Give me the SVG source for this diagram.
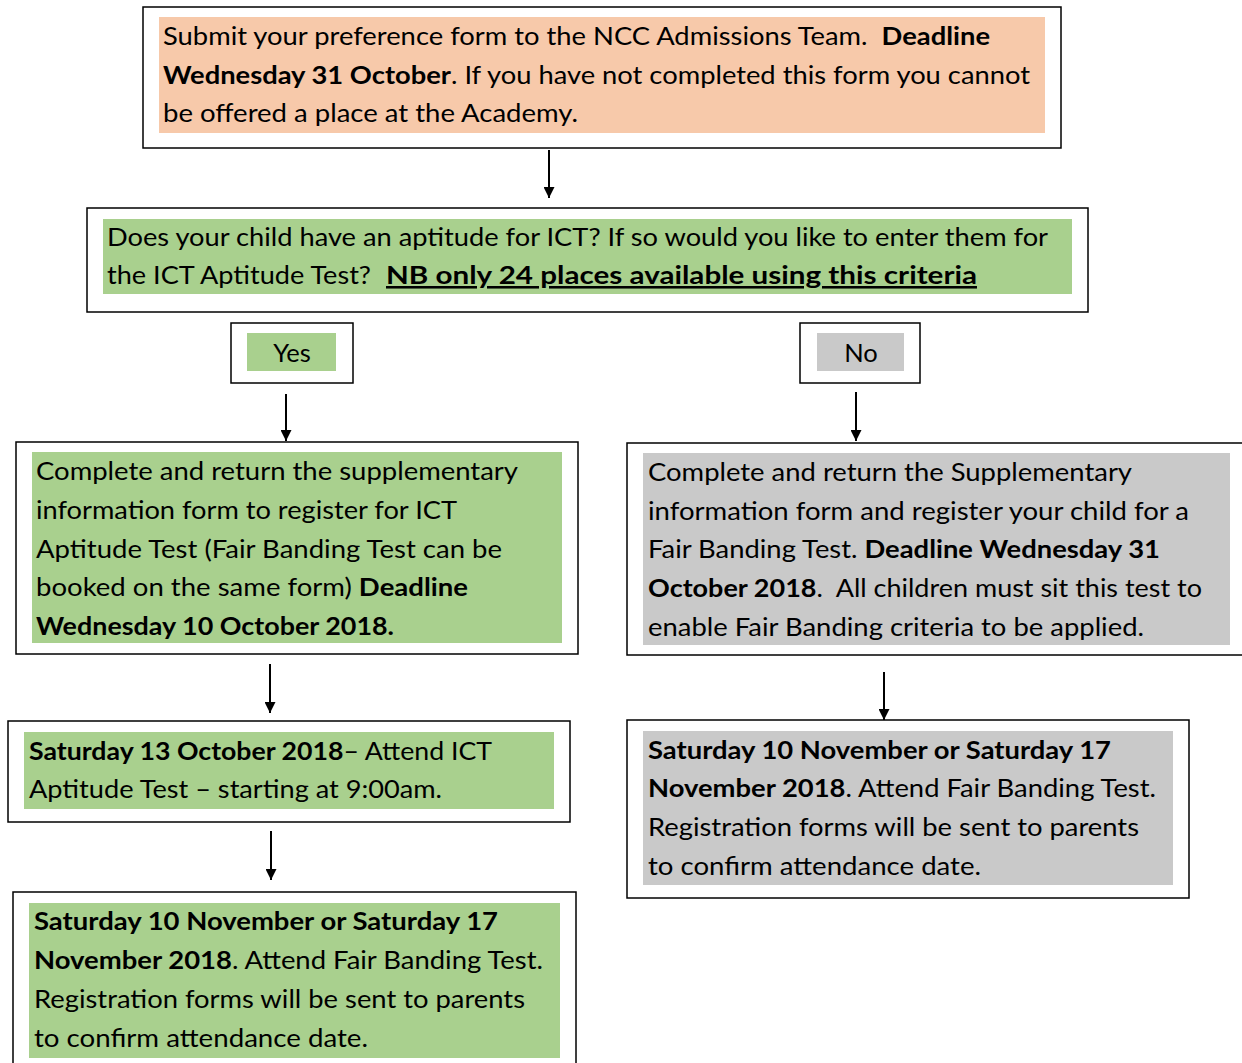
<svg xmlns="http://www.w3.org/2000/svg" width="1242" height="1063" viewBox="0 0 1242 1063">
<style>
.frame{fill:#ffffff;stroke:#000000;stroke-width:1.5}
.peach{fill:#F7C9AA}
.green{fill:#A9D08E}
.gray{fill:#C9C9C9}
text{font-family:Lato,"Open Sans","Liberation Sans",sans-serif;font-size:25.5px;fill:#000000}
.b{font-weight:bold}
.pre{white-space:pre}
.conn line{stroke:#000000;stroke-width:2}
</style>
<defs>
<marker id="ah" viewBox="0 0 10 10" refX="10" refY="5" markerWidth="11" markerHeight="11" markerUnits="userSpaceOnUse" orient="auto">
<path d="M0,0 L10,5 L0,10 z" fill="#000000"/>
</marker>
</defs>
<rect width="1242" height="1063" fill="#ffffff"/>

<g id="connectors" class="conn">
<line x1="549" y1="150" x2="549" y2="198" marker-end="url(#ah)"/>
<line x1="286" y1="394" x2="286" y2="441" marker-end="url(#ah)"/>
<line x1="856" y1="392" x2="856" y2="441" marker-end="url(#ah)"/>
<line x1="270" y1="664" x2="270" y2="713" marker-end="url(#ah)"/>
<line x1="271" y1="831" x2="271" y2="880" marker-end="url(#ah)"/>
<line x1="884" y1="672" x2="884" y2="720" marker-end="url(#ah)"/>
</g>

<g id="node-submit">
<rect class="frame" x="143" y="7" width="918" height="141"/>
<rect class="peach" x="159" y="17" width="886" height="116"/>
<text class="pre" x="163" y="45" textLength="827" lengthAdjust="spacingAndGlyphs">Submit your preference form to the NCC Admissions Team.  <tspan class="b">Deadline</tspan></text>
<text x="163" y="84" textLength="867" lengthAdjust="spacingAndGlyphs"><tspan class="b">Wednesday 31 October</tspan>. If you have not completed this form you cannot</text>
<text x="163" y="122" textLength="415" lengthAdjust="spacingAndGlyphs">be offered a place at the Academy.</text>
</g>

<g id="node-aptitude">
<rect class="frame" x="87" y="208" width="1001" height="104"/>
<rect class="green" x="103" y="219" width="969" height="75"/>
<text x="107" y="246" textLength="941" lengthAdjust="spacingAndGlyphs">Does your child have an aptitude for ICT? If so would you like to enter them for</text>
<text x="107" y="284" textLength="264" lengthAdjust="spacingAndGlyphs">the ICT Aptitude Test?</text>
<text x="386" y="284" textLength="591" lengthAdjust="spacingAndGlyphs" class="b" text-decoration="underline">NB only 24 places available using this criteria</text>
</g>

<g id="node-yes">
<rect class="frame" x="231" y="323" width="122" height="60"/>
<rect class="green" x="247" y="333" width="89" height="38"/>
<text x="292" y="362" text-anchor="middle">Yes</text>
</g>

<g id="node-no">
<rect class="frame" x="800" y="323" width="120" height="60"/>
<rect class="gray" x="817" y="333" width="87" height="38"/>
<text x="861" y="362" text-anchor="middle">No</text>
</g>

<g id="node-yes-form">
<rect class="frame" x="16" y="442" width="562" height="212"/>
<rect class="green" x="32" y="452" width="530" height="191"/>
<text x="36" y="480" textLength="482" lengthAdjust="spacingAndGlyphs">Complete and return the supplementary</text>
<text x="36" y="519" textLength="421" lengthAdjust="spacingAndGlyphs">information form to register for ICT</text>
<text x="36" y="558" textLength="466" lengthAdjust="spacingAndGlyphs">Aptitude Test (Fair Banding Test can be</text>
<text x="36" y="596" textLength="432" lengthAdjust="spacingAndGlyphs">booked on the same form) <tspan class="b">Deadline</tspan></text>
<text x="36" y="635" textLength="358" lengthAdjust="spacingAndGlyphs" class="b">Wednesday 10 October 2018.</text>
</g>

<g id="node-no-form">
<rect class="frame" x="627" y="443" width="625" height="212"/>
<rect class="gray" x="643" y="453" width="587" height="192"/>
<text x="648" y="481" textLength="484" lengthAdjust="spacingAndGlyphs">Complete and return the Supplementary</text>
<text x="648" y="520" textLength="541" lengthAdjust="spacingAndGlyphs">information form and register your child for a</text>
<text x="648" y="558" textLength="512" lengthAdjust="spacingAndGlyphs">Fair Banding Test. <tspan class="b">Deadline Wednesday 31</tspan></text>
<text class="pre" x="648" y="597" textLength="554" lengthAdjust="spacingAndGlyphs"><tspan class="b">October 2018</tspan>.  All children must sit this test to</text>
<text x="648" y="636" textLength="496" lengthAdjust="spacingAndGlyphs">enable Fair Banding criteria to be applied.</text>
</g>

<g id="node-ict-test">
<rect class="frame" x="8" y="721" width="562" height="101"/>
<rect class="green" x="24" y="732" width="530" height="77"/>
<text x="29" y="760" textLength="463" lengthAdjust="spacingAndGlyphs"><tspan class="b">Saturday 13 October 2018</tspan>– Attend ICT</text>
<text x="29" y="798" textLength="413" lengthAdjust="spacingAndGlyphs">Aptitude Test – starting at 9:00am.</text>
</g>

<g id="node-yes-banding">
<rect class="frame" x="13" y="892" width="563" height="180"/>
<rect class="green" x="29" y="903" width="531" height="155"/>
<text x="34" y="930" textLength="464" lengthAdjust="spacingAndGlyphs" class="b">Saturday 10 November or Saturday 17</text>
<text x="34" y="969" textLength="509" lengthAdjust="spacingAndGlyphs"><tspan class="b">November 2018</tspan>. Attend Fair Banding Test.</text>
<text x="34" y="1008" textLength="491" lengthAdjust="spacingAndGlyphs">Registration forms will be sent to parents</text>
<text x="34" y="1047" textLength="334" lengthAdjust="spacingAndGlyphs">to confirm attendance date.</text>
</g>

<g id="node-no-banding">
<rect class="frame" x="627" y="720" width="562" height="178"/>
<rect class="gray" x="643" y="731" width="530" height="154"/>
<text x="648" y="759" textLength="463" lengthAdjust="spacingAndGlyphs" class="b">Saturday 10 November or Saturday 17</text>
<text x="648" y="797" textLength="508" lengthAdjust="spacingAndGlyphs"><tspan class="b">November 2018</tspan>. Attend Fair Banding Test.</text>
<text x="648" y="836" textLength="491" lengthAdjust="spacingAndGlyphs">Registration forms will be sent to parents</text>
<text x="648" y="875" textLength="333" lengthAdjust="spacingAndGlyphs">to confirm attendance date.</text>
</g>
</svg>
